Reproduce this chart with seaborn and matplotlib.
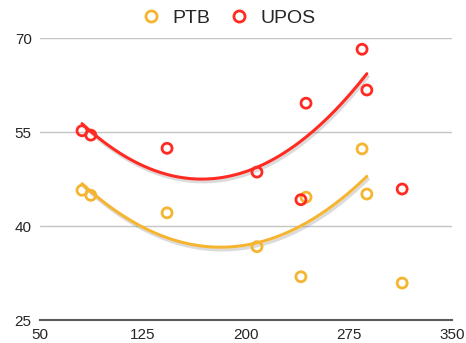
import numpy as np
import pandas as pd
import seaborn as sns
import matplotlib
matplotlib.use("Agg")
import matplotlib.pyplot as plt
import matplotlib.patheffects as pe
from matplotlib.lines import Line2D

x_vals = [80.6, 87, 142.5, 208, 240, 243.7, 284.5, 288, 313.7]
ptb = [45.7, 44.9, 42.1, 36.7, 31.9, 44.6, 52.3, 45.1, 30.9]
upos = [55.2, 54.5, 52.4, 48.6, 44.2, 59.6, 68.2, 61.7, 45.9]
fit_n = 8  # the trend lines cover the first eight points
series_names = ["PTB", "UPOS"]
colors = {"PTB": "#F6B530", "UPOS": "#FF2B22"}
x_ticks = [50, 125, 200, 275, 350]
y_ticks = [25, 40, 55, 70]

sns.set_theme(style="white")
plt.rcParams['font.family'] = ['Liberation Sans', 'DejaVu Sans']

df = pd.DataFrame({
    "x": x_vals * 2,
    "y": ptb + upos,
    "series": ["PTB"] * len(x_vals) + ["UPOS"] * len(x_vals),
})

fig, ax = plt.subplots(figsize=(4.66, 3.43), dpi=100)
fig.subplots_adjust(left=40/466, right=452/466, top=1-38/343, bottom=1-320/343)

for name in series_names:
    sub = df[df.series == name].iloc[:fit_n]
    sns.regplot(data=sub, x="x", y="y", order=2, ci=None, scatter=False,
                ax=ax, color=colors[name],
                line_kws=dict(lw=2.2, zorder=3,
                              path_effects=[pe.SimpleLineShadow(offset=(1, -2), shadow_color='gray', alpha=0.28),
                                            pe.Normal()]))

sns.scatterplot(data=df, x="x", y="y", hue="series", palette=colors,
                hue_order=series_names, ax=ax, s=52, facecolor="none",
                linewidth=2.0, zorder=4, legend=False)
coll = ax.collections[-1]
coll.set_edgecolors([colors[s] for s in df.series])
coll.set_facecolors("none")

ax.set_xlim(50, 350)
ax.set_ylim(25, 70)
ax.set_xticks(x_ticks)
ax.set_yticks(y_ticks)
ax.set_xticklabels([str(v) for v in x_ticks], fontsize=11)
ax.set_yticklabels([str(v) for v in y_ticks], fontsize=11)
ax.tick_params(length=0, pad=6)
ax.set_xlabel("")
ax.set_ylabel("")
ax.yaxis.grid(True, color="#C4C4C4", lw=1)
ax.set_axisbelow(True)
for s in ["top", "right", "left"]:
    ax.spines[s].set_visible(False)
ax.spines["bottom"].set_color("#5A5A5A")
ax.spines["bottom"].set_linewidth(1.5)
ax.spines["bottom"].set_zorder(5)

handles = [Line2D([], [], marker="o", ls="", markersize=8, markerfacecolor="none",
                  markeredgecolor=colors[n], markeredgewidth=2.0) for n in series_names]
fig.legend(handles, series_names, loc="upper center", bbox_to_anchor=(0.486, 1.025),
           ncol=2, frameon=False, fontsize=14, handletextpad=0.4, columnspacing=0.8,
           handlelength=1.4)

fig.savefig("out.png", dpi=100)
